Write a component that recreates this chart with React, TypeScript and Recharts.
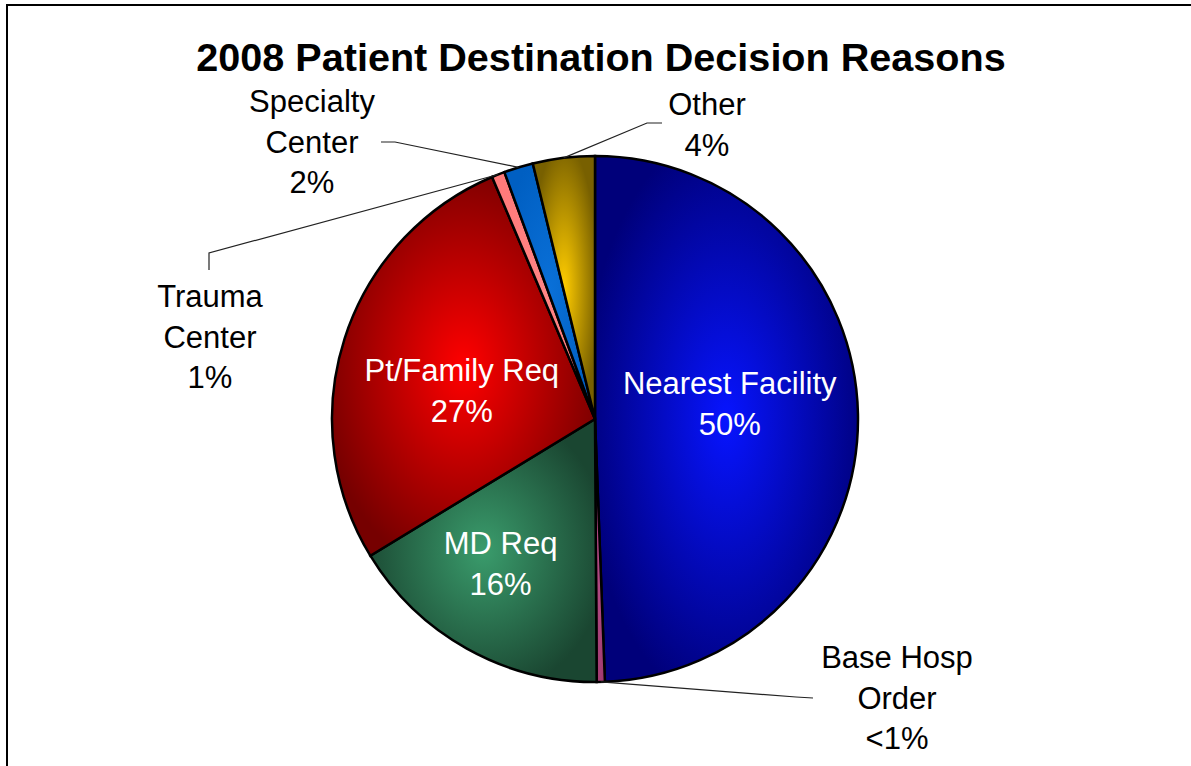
import { PieChart, Pie, Cell } from "recharts";

const CATEGORIES = [
  "Nearest Facility",
  "Base Hosp Order",
  "MD Req",
  "Pt/Family Req",
  "Trauma Center",
  "Specialty Center",
  "Other",
];
const SHARES = [49.4, 0.5, 16.4, 27.3, 0.8, 1.8, 3.8];
const PERCENT_LABELS = ["50%", "<1%", "16%", "27%", "1%", "2%", "4%"];
const LABEL_LINES = [
  ["Nearest Facility"],
  ["Base Hosp", "Order"],
  ["MD Req"],
  ["Pt/Family Req"],
  ["Trauma", "Center"],
  ["Specialty", "Center"],
  ["Other"],
];

const WIDTH = 1191;
const HEIGHT = 766;
const CX = 595;
const CY = 419;
const RADIUS = 263;
const FONT = '"Liberation Sans", Arial, Helvetica, sans-serif';
const LINE_H = 40.5;

// [centre colour, edge colour] of each slice's shading
const SLICE_SHADES = [
  ["#0714ff", "#00007a"],
  ["#b8508a", "#a03a70"],
  ["#3a9c6c", "#1a4631"],
  ["#ff0000", "#760000"],
  ["#ff8585", "#ff7a7a"],
  ["#0a70d8", "#005fc2"],
  ["#ffcc00", "#786000"],
];

type Layout =
  | { inside: true; r: number; dx: number; dy: number }
  | {
      inside: false;
      elbow: [number, number];
      end: [number, number];
      text: [number, number];
    };

// offsets relative to the pie centre
const LABEL_LAYOUT: Layout[] = [
  { inside: true, r: 0.52, dx: -2, dy: -13 },
  { inside: false, elbow: [201, 278], end: [218, 279], text: [302, 249] },
  { inside: true, r: 0.62, dx: -15, dy: 2 },
  { inside: true, r: 0.52, dx: -3, dy: 13 },
  { inside: false, elbow: [-386, -166], end: [-386, -149], text: [-385, -112] },
  { inside: false, elbow: [-200, -277], end: [-214, -277], text: [-283, -307] },
  { inside: false, elbow: [52, -296], end: [67, -296], text: [112, -304] },
];

const data = CATEGORIES.map((name, i) => ({ name, value: SHARES[i] }));

const RAD = Math.PI / 180;
function polar(cx: number, cy: number, r: number, angle: number) {
  return [cx + r * Math.cos(-angle * RAD), cy + r * Math.sin(-angle * RAD)];
}

function SliceLabel(props: any) {
  const { cx, cy, midAngle, outerRadius, index } = props;
  const layout = LABEL_LAYOUT[index];
  const lines = [...LABEL_LINES[index], PERCENT_LABELS[index]];
  if (layout.inside) {
    const [px, py] = polar(cx, cy, outerRadius * layout.r, midAngle);
    const x = px + layout.dx;
    const firstBaseline = py + layout.dy - 9 - ((lines.length - 2) * LINE_H) / 2;
    return (
      <text
        x={x}
        y={firstBaseline}
        fill="#ffffff"
        fontSize={31}
        fontFamily={FONT}
        textAnchor="middle"
      >
        {lines.map((l, i) => (
          <tspan key={i} x={x} y={firstBaseline + i * LINE_H}>
            {l}
          </tspan>
        ))}
      </text>
    );
  }
  const [sx, sy] = polar(cx, cy, outerRadius, midAngle);
  const tx = cx + layout.text[0];
  const ty = cy + layout.text[1];
  return (
    <g>
      <polyline
        points={`${sx},${sy} ${cx + layout.elbow[0]},${cy + layout.elbow[1]} ${
          cx + layout.end[0]
        },${cy + layout.end[1]}`}
        fill="none"
        stroke="#222"
        strokeWidth={1.2}
      />
      <text
        x={tx}
        y={ty}
        fill="#000"
        fontSize={31}
        fontFamily={FONT}
        textAnchor="middle"
      >
        {lines.map((l, i) => (
          <tspan key={i} x={tx} y={ty + i * LINE_H}>
            {l}
          </tspan>
        ))}
      </text>
    </g>
  );
}

export default function App() {
  return (
    <div
      style={{
        position: "absolute",
        left: 0,
        top: 0,
        width: WIDTH,
        height: HEIGHT,
        background: "#fff",
        overflow: "hidden",
      }}
    >
      <div
        style={{
          position: "absolute",
          left: 6,
          top: 4,
          width: WIDTH + 20,
          height: HEIGHT + 20,
          borderLeft: "2.5px solid #000",
          borderTop: "2.5px solid #000",
        }}
      />
      <div style={{ position: "absolute", left: 0, top: 0 }}>
        <PieChart
          width={WIDTH}
          height={HEIGHT}
          margin={{ top: 0, right: 0, bottom: 0, left: 0 }}
        >
          <defs>
            {SLICE_SHADES.map(([inner, outer], i) => (
              <radialGradient
                key={i}
                id={`shade${i}`}
                cx="50%"
                cy="50%"
                r="55%"
              >
                <stop offset="0%" stopColor={inner} />
                <stop offset="100%" stopColor={outer} />
              </radialGradient>
            ))}
          </defs>
          <Pie
            data={data}
            dataKey="value"
            nameKey="name"
            cx={CX}
            cy={CY}
            outerRadius={RADIUS}
            startAngle={90}
            endAngle={-270}
            stroke="#000"
            strokeWidth={2.5}
            label={SliceLabel}
            labelLine={false}
            isAnimationActive={false}
          >
            {data.map((d, i) => (
              <Cell key={d.name} fill={`url(#shade${i})`} />
            ))}
          </Pie>
        </PieChart>
      </div>
      <svg
        width={WIDTH}
        height={HEIGHT}
        style={{ position: "absolute", left: 0, top: 0, pointerEvents: "none" }}
      >
        <text
          x={601}
          y={71}
          textAnchor="middle"
          fontFamily={FONT}
          fontWeight="bold"
          fontSize={39.6}
          fill="#000"
        >
          2008 Patient Destination Decision Reasons
        </text>
      </svg>
    </div>
  );
}
